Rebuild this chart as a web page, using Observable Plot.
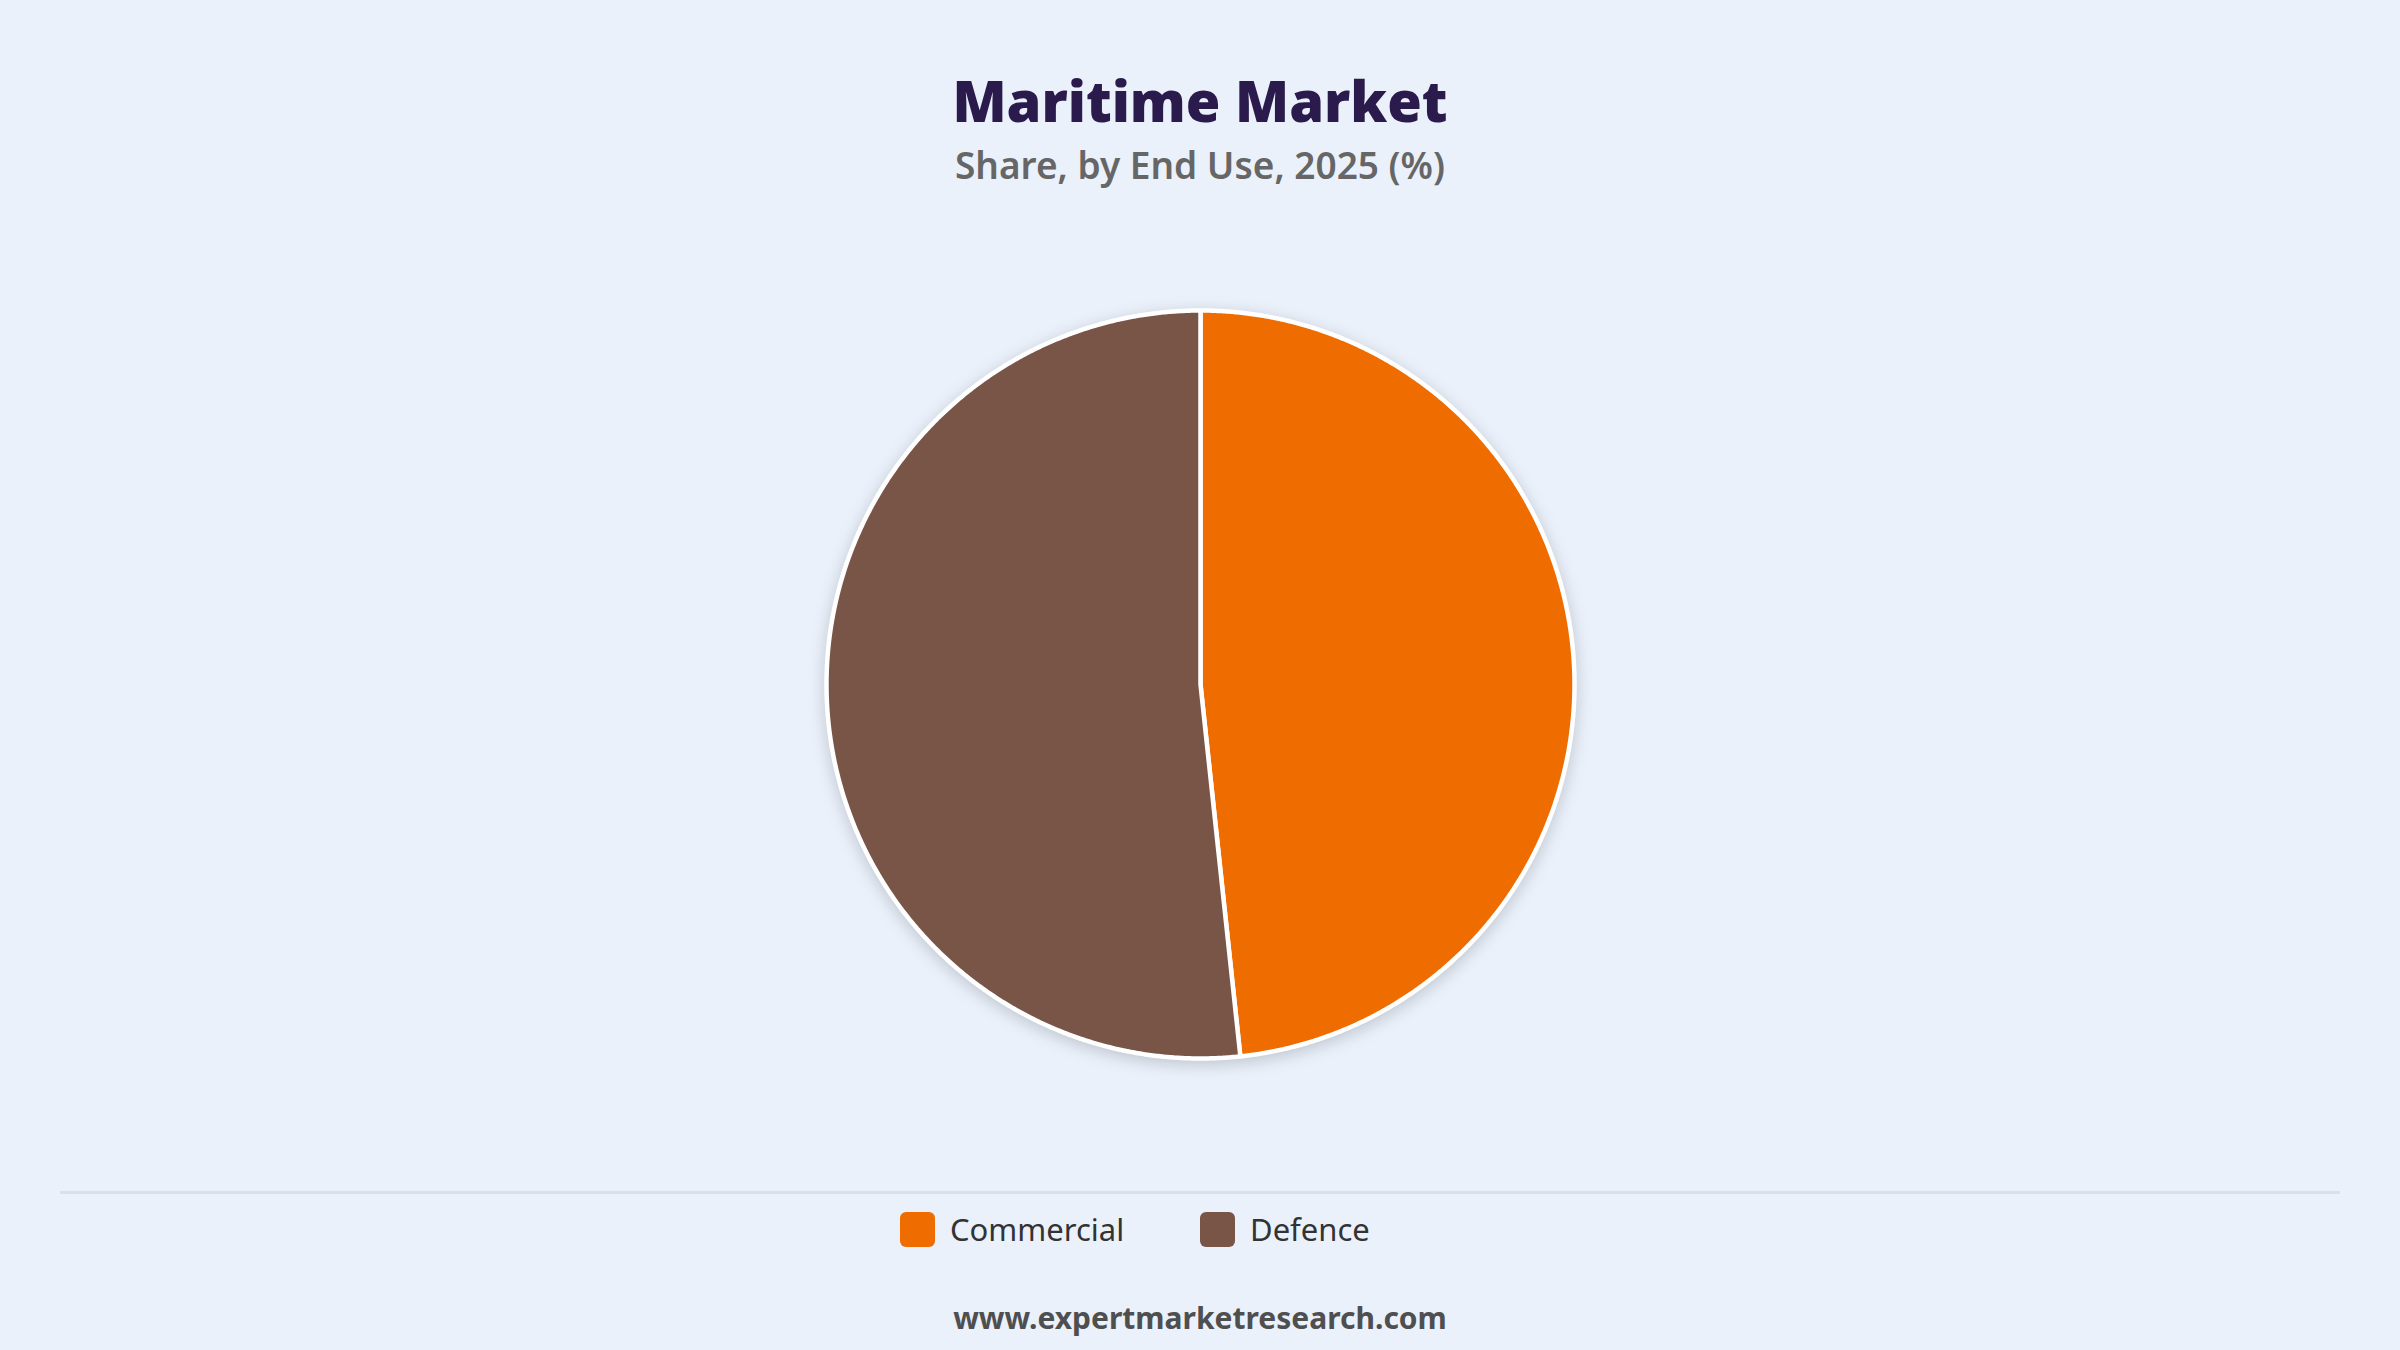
<!DOCTYPE html>
<html>
<head>
<meta charset="utf-8">
<script src="https://cdn.jsdelivr.net/npm/d3@7"></script>
<script src="https://cdn.jsdelivr.net/npm/@observablehq/plot@0.6"></script>
<style>
  html, body { margin: 0; padding: 0; }
  body { width: 2400px; height: 1350px; background: #eaf1fb; position: relative; overflow: hidden; font-family: "Noto Sans", "Open Sans", sans-serif; }
  #title { position: absolute; top: 60px; left: 0; width: 2400px; text-align: center; font-size: 56px; font-weight: 900; color: #2b1a4c; line-height: 80px; }
  #subtitle { position: absolute; top: 140px; left: 0; width: 2400px; text-align: center; font-size: 37px; font-weight: 600; color: #666; line-height: 50px; }
  #chart { position: absolute; top: 284px; left: 800px; width: 800px; height: 800px; }
  #chart svg { filter: drop-shadow(0 4px 8px rgba(0,0,0,0.18)); overflow: visible; }
  #rule { position: absolute; top: 1191px; left: 60px; width: 2280px; height: 3px; background: #dcdfe4; }
  #legend { position: absolute; top: 1206px; left: 0; width: 2400px; height: 46px; font-size: 31px; color: #333; }
  .item { position: absolute; top: 0; display: flex; align-items: center; gap: 15px; height: 46px; white-space: nowrap; }
  .sw { width: 35px; height: 35px; border-radius: 6px; }
  #footer { position: absolute; top: 1295px; left: 0; width: 2400px; text-align: center; font-size: 30px; font-weight: 700; color: #4f4f4f; line-height: 46px; }
</style>
</head>
<body>
<div id="title">Maritime Market</div>
<div id="subtitle">Share, by End Use, 2025 (%)</div>
<div id="chart"></div>
<div id="rule"></div>
<div id="legend"></div>
<div id="footer">www.expertmarketresearch.com</div>
<script>
const categories = ["Commercial", "Defence"];
const shares = [48.3, 51.7];
const colors = ["#ef6c00", "#795548"];

const total = d3.sum(shares);
const pieRows = [];
let start = 0;
categories.forEach((c, i) => {
  const a0 = start / total * 2 * Math.PI;
  const a1 = (start + shares[i]) / total * 2 * Math.PI;
  start += shares[i];
  pieRows.push({cat: c, x: 0, y: 0});
  const n = Math.max(2, Math.ceil((a1 - a0) / 0.005));
  for (let k = 0; k <= n; k++) {
    const a = a0 + (a1 - a0) * k / n;
    pieRows.push({cat: c, x: Math.sin(a), y: Math.cos(a)});
  }
  pieRows.push({cat: c, x: 0, y: 0});
});

const r = 374, half = 400;
const dom = [-half / r, half / r];
const plot = Plot.plot({
  width: 800, height: 800,
  margin: 0,
  x: {domain: dom, axis: null},
  y: {domain: dom, axis: null},
  color: {domain: categories, range: colors},
  style: {background: "transparent"},
  marks: [
    Plot.line(pieRows, {x: "x", y: "y", z: "cat", fill: "cat", stroke: "white", strokeWidth: 4.5, strokeLinejoin: "round", curve: "linear"})
  ]
});
document.getElementById("chart").appendChild(plot);

const legend = document.getElementById("legend");
const legendLeft = [900, 1200];
categories.forEach((c, i) => {
  const it = document.createElement("div");
  it.className = "item";
  it.style.left = legendLeft[i] + "px";
  it.innerHTML = `<span class="sw" style="background:${colors[i]}"></span><span>${c}</span>`;
  legend.appendChild(it);
});
</script>
</body>
</html>
